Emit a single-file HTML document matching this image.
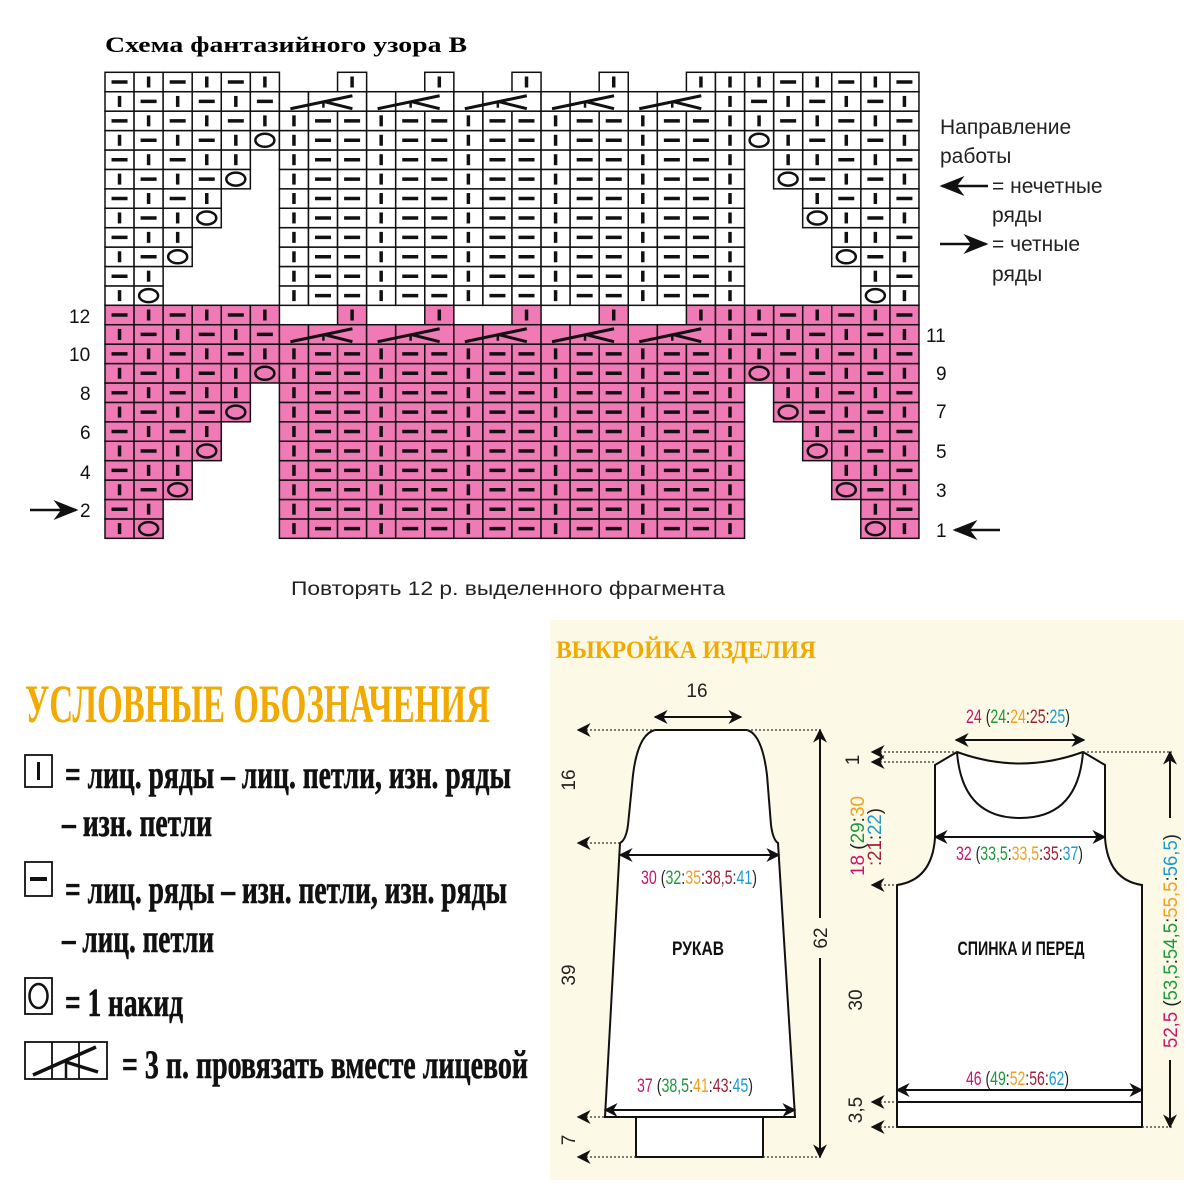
<!DOCTYPE html>
<html><head><meta charset="utf-8"><style>
html,body{margin:0;padding:0;background:#fff;width:1200px;height:1200px;overflow:hidden}
svg{display:block}
.s{font-family:"Liberation Sans","Noto Sans CJK SC",sans-serif}
.r{font-family:"Liberation Serif","Noto Serif CJK SC",serif}
</style></head><body>
<svg id="sv" width="1200" height="1200" viewBox="0 0 1200 1200" xmlns="http://www.w3.org/2000/svg">
<defs>
<marker id="ah" viewBox="0 0 10 10" refX="9" refY="5" markerUnits="userSpaceOnUse" markerWidth="15" markerHeight="14" orient="auto-start-reverse"><path d="M0,0 L10,5 L0,10 L3,5 Z" fill="#111"/></marker>
<marker id="ab" viewBox="0 0 10 10" refX="9" refY="5" markerWidth="10" markerHeight="10" orient="auto-start-reverse"><path d="M0,1 L10,5 L0,9 L3,5 Z" fill="#111"/></marker>
</defs>
<text x="105" y="52" class="r" font-size="22" font-weight="bold" textLength="362" lengthAdjust="spacingAndGlyphs">Схема фантазийного узора В</text>
<g id="grid"></g>
<g class="s" font-size="19" fill="#111">
<text x="69" y="323">12</text><text x="69" y="361">10</text><text x="80" y="400">8</text><text x="80" y="439">6</text><text x="80" y="479">4</text><text x="80" y="517">2</text>
<text x="926" y="342">11</text><text x="936" y="380">9</text><text x="936" y="418">7</text><text x="936" y="458">5</text><text x="936" y="497">3</text><text x="936" y="537">1</text>
</g>
<line x1="30" y1="510" x2="76" y2="510" stroke="#111" stroke-width="2.5" marker-end="url(#ab)"/>
<line x1="1000" y1="530" x2="955" y2="530" stroke="#111" stroke-width="2.5" marker-end="url(#ab)"/>
<g class="s" font-size="21" fill="#222">
<text x="940" y="134">Направление</text><text x="940" y="163">работы</text>
<text x="992" y="193">= нечетные</text><text x="992" y="222">ряды</text>
<text x="992" y="251">= четные</text><text x="992" y="281">ряды</text>
</g>
<line x1="988" y1="186" x2="942" y2="186" stroke="#111" stroke-width="2.5" marker-end="url(#ab)"/>
<line x1="940" y1="244" x2="986" y2="244" stroke="#111" stroke-width="2.5" marker-end="url(#ab)"/>
<text x="291" y="595" class="s" font-size="19" fill="#222" textLength="434" lengthAdjust="spacingAndGlyphs">Повторять 12 р. выделенного фрагмента</text>

<text x="25" y="722" class="r" font-size="54" font-weight="bold" fill="#f2a900" textLength="465" lengthAdjust="spacingAndGlyphs">УСЛОВНЫЕ ОБОЗНАЧЕНИЯ</text>
<g class="r" font-size="40" font-weight="bold" fill="#111" stroke="#111" stroke-width="0.6">
<text x="65" y="788" textLength="446" lengthAdjust="spacingAndGlyphs">= лиц. ряды – лиц. петли, изн. ряды</text>
<text x="62" y="836" textLength="150" lengthAdjust="spacingAndGlyphs">– изн. петли</text>
<text x="65" y="903" textLength="442" lengthAdjust="spacingAndGlyphs">= лиц. ряды – изн. петли, изн. ряды</text>
<text x="62" y="952" textLength="152" lengthAdjust="spacingAndGlyphs">– лиц. петли</text>
<text x="65" y="1016" textLength="118" lengthAdjust="spacingAndGlyphs">= 1 накид</text>
<text x="122" y="1078" textLength="406" lengthAdjust="spacingAndGlyphs">= 3 п. провязать вместе лицевой</text>
</g>
<g stroke="#111" fill="none" stroke-width="1.8">
<rect x="25" y="755" width="27" height="32"/><line x1="38.5" y1="762" x2="38.5" y2="780" stroke-width="3"/>
<rect x="25" y="862" width="27" height="34"/><line x1="30" y1="879" x2="47" y2="879" stroke-width="4"/>
<rect x="25" y="978" width="27" height="36"/><ellipse cx="38.5" cy="996" rx="9" ry="12" stroke-width="2.5"/>
<rect x="25" y="1042" width="82" height="37"/><line x1="52" y1="1042" x2="52" y2="1079"/><line x1="79" y1="1042" x2="79" y2="1079"/>
<line x1="33" y1="1075" x2="96" y2="1047" stroke-width="3.5"/><line x1="66" y1="1062" x2="98" y2="1072" stroke-width="3.5"/><line x1="66" y1="1062" x2="66" y2="1078" stroke-width="2.5"/>
</g>

<rect x="550" y="620" width="634" height="560" fill="#fcf9e6"/>
<text x="556" y="658" class="r" font-size="25" font-weight="bold" fill="#f2a900" textLength="260" lengthAdjust="spacingAndGlyphs">ВЫКРОЙКА ИЗДЕЛИЯ</text>
<g stroke="#111" stroke-width="2" fill="#fff">
<path d="M655,730 L747,730 Q762,734 767,775 L771,825 Q773,840 778,843 L795,1117 L605,1117 L620,843 Q626,840 628,825 L633,775 Q638,734 655,730 Z"/>
<rect x="636" y="1117" width="127" height="40"/>
<path d="M935,765 L957,752 Q1020,775 1083,752 L1105,765 L1105,838 Q1108,880 1142,885 L1142,1127 L897,1127 L897,885 Q932,880 935,838 Z"/>
<path d="M957,752 Q962,818 1020,818 Q1078,818 1083,752" fill="none"/>
<line x1="897" y1="1102" x2="1142" y2="1102"/>
</g>
<g stroke="#333" stroke-width="1.3" stroke-dasharray="2 2" fill="none">
<line x1="578" y1="730" x2="655" y2="730" marker-start="url(#ah)"/>
<line x1="747" y1="730" x2="822" y2="730"/>
<line x1="578" y1="843" x2="620" y2="843" marker-start="url(#ah)"/>
<line x1="578" y1="1117" x2="605" y2="1117" marker-start="url(#ah)"/>
<line x1="578" y1="1157" x2="636" y2="1157" marker-start="url(#ah)"/>
<line x1="763" y1="1157" x2="822" y2="1157"/>
<line x1="872" y1="752" x2="957" y2="752" marker-start="url(#ah)"/>
<line x1="872" y1="762" x2="935" y2="762" marker-start="url(#ah)"/>
<line x1="872" y1="885" x2="897" y2="885" marker-start="url(#ah)"/>
<line x1="872" y1="1102" x2="897" y2="1102" marker-start="url(#ah)"/>
<line x1="872" y1="1127" x2="897" y2="1127" marker-start="url(#ah)"/>
<line x1="1083" y1="752" x2="1172" y2="752"/>
<line x1="1142" y1="1127" x2="1172" y2="1127"/>
</g>
<g stroke="#111" stroke-width="2" fill="none">
<line x1="655" y1="717" x2="741" y2="717" marker-start="url(#ah)" marker-end="url(#ah)"/>
<line x1="620" y1="855" x2="779" y2="855" marker-start="url(#ah)" marker-end="url(#ah)"/>
<line x1="605" y1="1110" x2="795" y2="1110" marker-start="url(#ah)" marker-end="url(#ah)"/>
<line x1="820" y1="730" x2="820" y2="918" marker-start="url(#ah)"/>
<line x1="820" y1="958" x2="820" y2="1157" marker-end="url(#ah)"/>
<line x1="956" y1="740" x2="1084" y2="740" marker-start="url(#ah)" marker-end="url(#ah)"/>
<line x1="935" y1="837" x2="1105" y2="837" marker-start="url(#ah)" marker-end="url(#ah)"/>
<line x1="897" y1="1090" x2="1142" y2="1090" marker-start="url(#ah)" marker-end="url(#ah)"/>
<line x1="1170" y1="752" x2="1170" y2="818" marker-start="url(#ah)"/>
<line x1="1170" y1="1060" x2="1170" y2="1127" marker-end="url(#ah)"/>
</g>
<g class="s" font-size="19" fill="#222">
<text x="697" y="697" text-anchor="middle">16</text>
<text transform="translate(575,780) rotate(-90)" text-anchor="middle">16</text>
<text transform="translate(575,975) rotate(-90)" text-anchor="middle">39</text>
<text transform="translate(575,1140) rotate(-90)" text-anchor="middle">7</text>
<text transform="translate(827,938) rotate(-90)" text-anchor="middle">62</text>
<text transform="translate(859,760) rotate(-90)" text-anchor="middle">1</text>
<text transform="translate(862,1000) rotate(-90)" text-anchor="middle">30</text>
<text transform="translate(862,1110) rotate(-90)" text-anchor="middle">3,5</text>
<text x="641" y="884" textLength="116" lengthAdjust="spacingAndGlyphs"><tspan fill="#c8146e">30</tspan> (<tspan fill="#1a9a3a">32</tspan>:<tspan fill="#f0a020">35</tspan>:<tspan fill="#a0203a">38,5</tspan>:<tspan fill="#1a9ad0">41</tspan>)</text>
<text x="637" y="1092" textLength="116" lengthAdjust="spacingAndGlyphs"><tspan fill="#c8146e">37</tspan> (<tspan fill="#1a9a3a">38,5</tspan>:<tspan fill="#f0a020">41</tspan>:<tspan fill="#a0203a">43</tspan>:<tspan fill="#1a9ad0">45</tspan>)</text>
<text x="966" y="723" textLength="104" lengthAdjust="spacingAndGlyphs"><tspan fill="#c8146e">24</tspan> (<tspan fill="#1a9a3a">24</tspan>:<tspan fill="#f0a020">24</tspan>:<tspan fill="#a0203a">25</tspan>:<tspan fill="#1a9ad0">25</tspan>)</text>
<text x="956" y="860" textLength="127" lengthAdjust="spacingAndGlyphs"><tspan fill="#c8146e">32</tspan> (<tspan fill="#1a9a3a">33,5</tspan>:<tspan fill="#f0a020">33,5</tspan>:<tspan fill="#a0203a">35</tspan>:<tspan fill="#1a9ad0">37</tspan>)</text>
<text x="966" y="1085" textLength="103" lengthAdjust="spacingAndGlyphs"><tspan fill="#c8146e">46</tspan> (<tspan fill="#1a9a3a">49</tspan>:<tspan fill="#f0a020">52</tspan>:<tspan fill="#a0203a">56</tspan>:<tspan fill="#1a9ad0">62</tspan>)</text>
<text transform="translate(1177,1048) rotate(-90)" textLength="214" lengthAdjust="spacingAndGlyphs"><tspan fill="#c8146e">52,5</tspan> (<tspan fill="#1a9a3a">53,5</tspan>:<tspan fill="#1a9a3a">54,5</tspan>:<tspan fill="#f0a020">55,5</tspan>:<tspan fill="#1a9ad0">56,5</tspan>)</text>
<text transform="translate(864,876) rotate(-90)" textLength="80" lengthAdjust="spacingAndGlyphs"><tspan fill="#c8146e">18</tspan> (<tspan fill="#1a9a3a">29</tspan>:<tspan fill="#f0a020">30</tspan></text>
<text transform="translate(881,866) rotate(-90)" textLength="58" lengthAdjust="spacingAndGlyphs"><tspan fill="#a0203a">:21</tspan>:<tspan fill="#1a9ad0">22</tspan>)</text>
</g>
<g class="s" font-size="19" font-weight="bold" fill="#111">
<text x="698" y="955" text-anchor="middle" textLength="52" lengthAdjust="spacingAndGlyphs">РУКАВ</text>
<text x="1021" y="955" text-anchor="middle" textLength="127" lengthAdjust="spacingAndGlyphs">СПИНКА И ПЕРЕД</text>
</g>
</svg>
<script>
(function(){
var g=document.getElementById('grid'),NS='http://www.w3.org/2000/svg';
var W=29.07,H=19.42,X0=105;
function el(n,a){var e=document.createElementNS(NS,n);for(var k in a)e.setAttribute(k,a[k]);g.appendChild(e);return e;}
function cell(c,y,span,fill){el('rect',{x:X0+c*W,y:y,width:W*span,height:H,fill:fill,stroke:'#111','stroke-width':1.5});}
function sym(c,y,t){var cx=X0+c*W+W/2,cy=y+H/2;
 if(t=='|')el('line',{x1:cx,y1:cy-5.5,x2:cx,y2:cy+5.5,stroke:'#111','stroke-width':3.5});
 else if(t=='-')el('line',{x1:cx-8,y1:cy,x2:cx+8,y2:cy,stroke:'#111','stroke-width':3.5});
 else if(t=='o')el('ellipse',{cx:cx,cy:cy,rx:9.5,ry:6.5,fill:'none',stroke:'#111','stroke-width':2.5});}
function block(top,fill){
 for(var r=1;r<=12;r++){var y=top+(12-r)*H;
  var k=Math.ceil(r/2),n=Math.min(k+1,6),odd=r%2==1;
  for(var i=0;i<n;i++){var s;
   if(odd){s=(i==k&&k<=5)?'o':(i%2==0?'|':'-');}
   else{s=(i==n-1)?'|':(i%2==0?'-':'|');}
   cell(i,y,1,fill);sym(i,y,s);cell(27-i,y,1,fill);sym(27-i,y,s);}
  if(r<=10){for(var c=6;c<=21;c++){cell(c,y,1,fill);sym(c,y,(c-6)%3==0?'|':'-');}}
  else if(r==11){for(var m=0;m<5;m++){var a=6+3*m;cell(a,y,1,fill);cell(a+1,y,2,fill);
    var xa=X0+a*W;
    el('line',{x1:xa+11,y1:y+17,x2:xa+73,y2:y+4,stroke:'#111','stroke-width':3});
    el('line',{x1:xa+45,y1:y+10,x2:xa+73,y2:y+17,stroke:'#111','stroke-width':3});
    el('line',{x1:xa+44,y1:y+9,x2:xa+44,y2:y+16,stroke:'#111','stroke-width':2.5});}
   cell(21,y,1,fill);sym(21,y,'|');}
  else{for(var m=0;m<5;m++){cell(8+3*m,y,1,fill);sym(8+3*m,y,'|');}cell(21,y,1,fill);sym(21,y,'|');}
 }}
block(72.3,'#fff');block(305.3,'#f07ab5');
})();
</script>
</body></html>
